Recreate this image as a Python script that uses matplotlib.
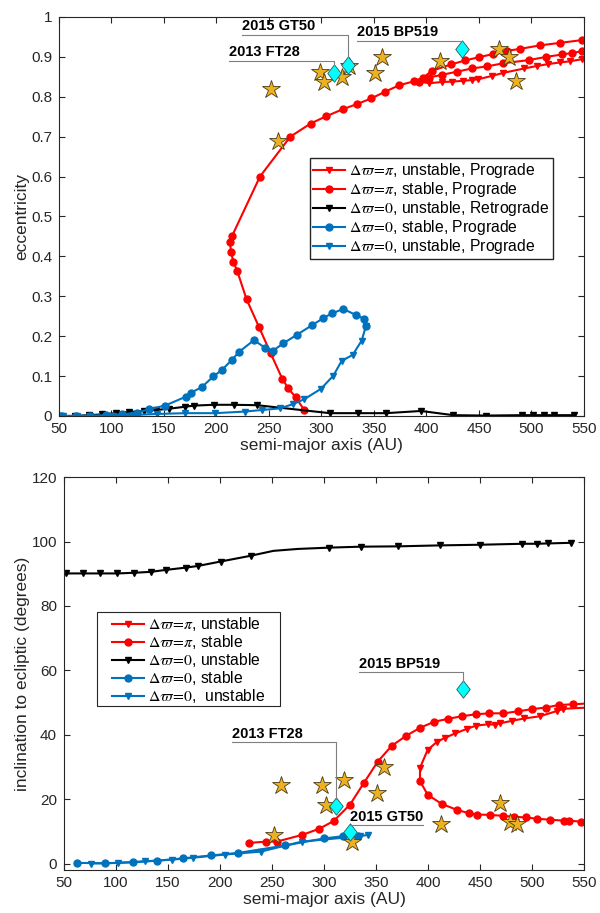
import matplotlib
matplotlib.use('Agg')
from matplotlib import pyplot as plt
from matplotlib.path import Path
from matplotlib.patches import Rectangle
import numpy as np

plt.rcParams['font.family'] = ['Liberation Sans', 'DejaVu Sans']
plt.rcParams['mathtext.fontset'] = 'stix'

RED = '#ff0000'
BLUE = '#0072bd'
GOLD = '#edb120'
GRAY = '#262626'
DIAMOND = Path([(0, 1), (0.78, 0), (0, -1), (-0.78, 0), (0, 1)], closed=True)

# ---------------- top panel: eccentricity vs semi-major axis ----------------
# Delta varpi = pi, stable (main branch)
pi_st_a = [283.5, 275.4, 268.4, 262.7, 251.6, 240.5, 228.7, 219.8, 216.0, 213.8, 212.9, 215.0,
           241.4, 270.3, 289.7, 304.3, 320.5, 334.1, 347.5, 360.8, 374.1, 388.4, 397.0, 405.0,
           423.3, 436.7, 449.7, 463.3, 476.4, 489.0, 508.4, 527.0, 547.8]
pi_st_e = [0.015, 0.047, 0.069, 0.093, 0.157, 0.223, 0.292, 0.363, 0.387, 0.412, 0.435, 0.452,
           0.600, 0.700, 0.733, 0.751, 0.769, 0.782, 0.796, 0.813, 0.829, 0.839, 0.848, 0.865,
           0.881, 0.891, 0.899, 0.907, 0.915, 0.920, 0.929, 0.935, 0.942]
# fold: unstable branch and second stable branch
pi_un_a = [547.8, 536.7, 527.0, 516.0, 505.0, 493.2, 473.2, 462.0, 449.3, 443.0, 435.0, 424.0, 414.5, 402.7]
pi_un_e = [0.894, 0.889, 0.886, 0.882, 0.877, 0.871, 0.860, 0.852, 0.844, 0.842, 0.840, 0.838, 0.837, 0.834]
pi_st2_a = [392.9, 402.0, 414.5, 429.4, 443.0, 457.3, 473.2, 497.6, 514.0, 529.3, 538.9, 547.8]
pi_st2_e = [0.838, 0.848, 0.855, 0.863, 0.871, 0.876, 0.884, 0.892, 0.900, 0.906, 0.910, 0.914]

# Delta varpi = 0, unstable, retrograde
z_ret_a = [52, 65, 78.6, 91, 104, 117, 130.7, 142.4, 154.5, 169.7, 178.6, 197.6, 216.4, 238.6,
           308, 335, 361.4, 394.8, 425.5, 456.4, 490.7, 501.7, 512, 521.7, 540.8]
z_ret_e = [0, 0, 0.002, 0.004, 0.007, 0.010, 0.0125, 0.015, 0.018, 0.023, 0.026, 0.028, 0.028, 0.027,
           0.007, 0.007, 0.007, 0.0125, 0.002, 0.001, 0.002, 0.002, 0.002, 0.002, 0.002]

# Delta varpi = 0, stable, prograde
z_st_a = [52, 66, 80, 95, 110, 124, 136, 151, 170.6, 175.4, 185.9, 197, 205, 214.5, 221.7, 235.7,
          246.2, 254.1, 263.6, 276.3, 291.3, 301.7, 309.7, 320.8, 332.9, 340.8, 342.4]
z_st_e = [0, 0, 0.001, 0.002, 0.004, 0.008, 0.017, 0.026, 0.048, 0.058, 0.072, 0.099, 0.115, 0.140, 0.161, 0.190,
          0.171, 0.164, 0.182, 0.203, 0.228, 0.245, 0.257, 0.268, 0.253, 0.243, 0.226]

# Delta varpi = 0, unstable, prograde
z_un_a = [54, 66.8, 79.5, 101.7, 120.8, 143, 170, 198.6, 227, 243.6, 260.5, 273.2, 283.6, 299.5,
          311.3, 319.2, 329.7, 338.3, 342.4]
z_un_e = [0, 0, 0, 0, 0.0025, 0.005, 0.007, 0.007, 0.011, 0.015, 0.019, 0.030, 0.042, 0.068,
          0.101, 0.138, 0.153, 0.189, 0.226]

# known objects
obj_a = [252, 258.6, 298.6, 302, 319.5, 326, 351, 357.6, 413, 469, 478.6, 485]
obj_e = [0.82, 0.69, 0.862, 0.837, 0.85, 0.877, 0.86, 0.90, 0.89, 0.92, 0.90, 0.84]
obj_i = [24.4, 9.0, 24.4, 18.3, 26.0, 6.9, 22.0, 30.1, 12.5, 19.0, 12.9, 12.4]
obj_ib = [258.3, 252.2, 298.4, 302, 319.2, 326.6, 350.7, 358, 412.2, 469.2, 478.8, 485.3]

names = ['2013 FT28', '2015 GT50', '2015 BP519']
nm_a = [312, 325, 434]
nm_e = [0.86, 0.88, 0.92]
nm_ab = [311.5, 325, 433.4]
nm_i = [17.8, 9.8, 54.4]

# ---------------- bottom panel: inclination ----------------
b_pi_st_a = [228.2, 243.9, 254.5, 279.1, 295.5, 309.3, 325.0, 338.3, 351.6, 365.0, 378.8, 392.3,
             406.0, 419.5, 432.4, 445.9, 459.0, 472.4, 486.2, 499.7, 513.2, 526.0, 539.7]
b_pi_st_i = [6.5, 6.9, 6.9, 9.0, 10.9, 13.3, 18.4, 25.1, 31.7, 36.6, 39.7, 42.2,
             44.1, 45.0, 45.8, 46.4, 46.7, 46.7, 47.3, 48.0, 48.5, 49.3, 49.5]
b_pi_un_a = [530.1, 523.7, 507.7, 492.4, 481.0, 469.2, 464.4, 457.7, 446.3, 437.5, 426.3, 416.3, 408.3, 399.5, 392.3]
b_pi_un_i = [48.1, 47.4, 45.8, 45.1, 44.4, 43.6, 43.2, 43.3, 42.9, 41.9, 40.5, 39.1, 37.8, 35.3, 29.8]
b_pi_st2_a = [392.3, 399.7, 413.2, 428.2, 439.7, 447.4, 459.6, 471.8, 483.0, 493.9, 505.0, 517.3, 530.8, 535.9, 546.8]
b_pi_st2_i = [25.7, 21.4, 18.6, 16.7, 15.7, 15.3, 15.2, 14.9, 14.6, 14.4, 14.0, 13.7, 13.4, 13.4, 13.1]

b_z_un_a = [51.9, 68.6, 84.6, 101.3, 117.6, 133.7, 148, 167, 178.5, 200.7, 229.8, 251.3, 275,
            304.8, 335.3, 371.2, 411.5, 450, 490.7, 504.5, 515, 537.5]
b_z_un_i = [90.1, 90.1, 90.1, 90.1, 90.3, 90.6, 91.2, 91.9, 92.4, 93.8, 95.6, 97.1, 97.7,
            98.1, 98.4, 98.5, 98.8, 99.0, 99.3, 99.3, 99.4, 99.6]
b_z_un_mk = [0, 1, 2, 3, 4, 5, 6, 7, 8, 9, 10, 13, 14, 15, 16, 17, 18, 19, 20, 21]

b_z_st_a = [62.8, 89.4, 116.7, 139.7, 164.1, 191, 217.6, 262.5, 300, 318.6, 333]
b_z_st_i = [0.3, 0.2, 0.5, 1.0, 1.7, 2.6, 3.4, 5.7, 7.9, 8.6, 8.7]
b_z_un2_a = [75.7, 102.2, 128, 153.5, 173.7, 204.8, 239.1, 278.5, 334.6, 342.6]
b_z_un2_i = [0.1, 0.3, 0.8, 1.3, 1.9, 2.9, 3.8, 6.9, 8.6, 9.0]

fig = plt.figure(figsize=(6, 9.13), dpi=100)
ax1 = fig.add_axes([0.0983, 0.5444, 0.875, 0.437])
ax2 = fig.add_axes([0.1067, 0.0471, 0.8667, 0.4304])

lw = 1.5
star_kw = dict(marker='*', color=GOLD, mec='#4a3c18', mew=0.6, ms=13.5, ls='none')
dia_kw = dict(marker=DIAMOND, color='#00ffff', mec='#2a5a5a', mew=0.6, ms=12.5, ls='none')
leg_kw = dict(loc='upper left', bbox_transform=fig.transFigure, fontsize=11.3, frameon=True,
              fancybox=False, edgecolor=GRAY, framealpha=1, handlelength=2.0,
              handletextpad=0.3, labelspacing=0.0, borderpad=0.2, borderaxespad=0)

# top
ax1.plot(pi_un_a, pi_un_e, '-v', color=RED, lw=lw, ms=4.5,
         label=r'$\Delta\varpi\!=\!\pi$, unstable, Prograde')
ax1.plot(pi_st_a, pi_st_e, '-o', color=RED, lw=lw, ms=5,
         label=r'$\Delta\varpi\!=\!\pi$, stable, Prograde')
ax1.plot([pi_un_a[-1], pi_st2_a[0]], [pi_un_e[-1], pi_st2_e[0]], '-', color=RED, lw=lw)
ax1.plot(pi_st2_a, pi_st2_e, '-o', color=RED, lw=lw, ms=5)
ax1.plot(z_ret_a, z_ret_e, '-v', color='k', lw=lw, ms=5,
         label=r'$\Delta\varpi\!=\!0$, unstable, Retrograde')
ax1.plot(z_st_a, z_st_e, '-o', color=BLUE, lw=lw, ms=5,
         label=r'$\Delta\varpi\!=\!0$, stable, Prograde')
ax1.plot(z_un_a, z_un_e, '-v', color=BLUE, lw=lw, ms=5,
         label=r'$\Delta\varpi\!=\!0$, unstable, Prograde')
ax1.plot(obj_a, obj_e, **star_kw)
ax1.plot(nm_a, nm_e, **dia_kw)

# labels with leader lines (text left, underline level)
top_lab = [(212, 0.89), (224.3, 0.955), (333.8, 0.94)]
for (tx, ty), n, xa, ye in zip(top_lab, names, nm_a, nm_e):
    ax1.plot([tx, xa, xa], [ty, ty, ye + 0.02], color='#7f7f7f', lw=0.8)
    ax1.text(tx, ty + 0.004, n, fontsize=10.5, fontweight='bold', va='bottom', ha='left')

ax1.set_xlim(50, 550)
ax1.set_ylim(0, 1)
ax1.set_xticks(np.arange(50, 551, 50))
ax1.set_yticks(np.arange(0, 1.01, 0.1))
ax1.set_yticklabels(['0', '0.1', '0.2', '0.3', '0.4', '0.5', '0.6', '0.7', '0.8', '0.9', '1'])
ax1.set_xlabel('semi-major axis (AU)', fontsize=12.5, color=GRAY, labelpad=2)
ax1.set_ylabel('eccentricity', fontsize=12.5, color=GRAY, labelpad=1)
ax1.legend(bbox_to_anchor=(0.517, 0.827), **leg_kw)

# bottom
ax2.plot(b_pi_un_a, b_pi_un_i, '-v', color=RED, lw=lw, ms=4.5, label=r'$\Delta\varpi\!=\!\pi$, unstable')
ax2.plot(b_pi_st_a + [560], b_pi_st_i + [49.9], '-o', color=RED, lw=lw, ms=5,
         markevery=list(range(len(b_pi_st_a))), label=r'$\Delta\varpi\!=\!\pi$, stable')
ax2.plot([560] + b_pi_un_a[:1], [48.6] + b_pi_un_i[:1], '-', color=RED, lw=lw)
ax2.plot([b_pi_un_a[-1], b_pi_st2_a[0]], [b_pi_un_i[-1], b_pi_st2_i[0]], '-', color=RED, lw=lw)
ax2.plot(b_pi_st2_a + [560], b_pi_st2_i + [13.0], '-o', color=RED, lw=lw, ms=5,
         markevery=list(range(len(b_pi_st2_a))))
ax2.plot(b_z_un_a, b_z_un_i, '-v', color='k', lw=lw, ms=5, markevery=b_z_un_mk,
         label=r'$\Delta\varpi\!=\!0$, unstable')
ax2.plot(b_z_st_a, b_z_st_i, '-o', color=BLUE, lw=lw, ms=5, label=r'$\Delta\varpi\!=\!0$, stable')
ax2.plot(b_z_un2_a, b_z_un2_i, '-v', color=BLUE, lw=lw, ms=5, label=r'$\Delta\varpi\!=\!0$,  unstable')
ax2.plot(obj_ib, obj_i, **star_kw)
ax2.plot(nm_ab, nm_i, **dia_kw)

bot_lab = [(211.5, 37.7, 'left'), (395, 12.0, 'right'), (333.7, 59.4, 'left')]
for (tx, ty, ha), n, xa, yi in zip(bot_lab, names, nm_ab, nm_i):
    ax2.plot([tx, xa, xa], [ty, ty, yi + 2.2], color='#7f7f7f', lw=0.8)
    ax2.text(tx, ty + 0.5, n, fontsize=10.5, fontweight='bold', va='bottom', ha=ha)

ax2.set_xlim(50, 550)
ax2.set_ylim(-1.9, 120)
ax2.set_xticks(np.arange(50, 551, 50))
ax2.set_yticks(np.arange(0, 121, 20))
ax2.set_xlabel('semi-major axis (AU)', fontsize=12.5, color=GRAY, labelpad=2)
ax2.set_ylabel('inclination to ecliptic (degrees)', fontsize=12.5, color=GRAY, labelpad=1)

# the lower legend box is wider than its contents
bot_kw = dict(leg_kw, frameon=False)
leg2 = ax2.legend(bbox_to_anchor=(0.1817, 0.3297), **bot_kw)
leg2.set_zorder(6)
ax2.add_patch(Rectangle((0.1617, 0.2267), 0.305, 0.103, transform=fig.transFigure,
                        facecolor='white', edgecolor=GRAY, lw=0.8, zorder=5.5, clip_on=False))

for ax in (ax1, ax2):
    ax.tick_params(direction='in', top=True, right=True, length=4, width=0.8,
                   labelsize=11, colors=GRAY, labelcolor=GRAY)
    ax.tick_params(axis='y', pad=5)
    ax.tick_params(axis='x', pad=4)
    for s in ax.spines.values():
        s.set_color(GRAY)
        s.set_linewidth(0.8)

fig.savefig('out.png', dpi=100)
